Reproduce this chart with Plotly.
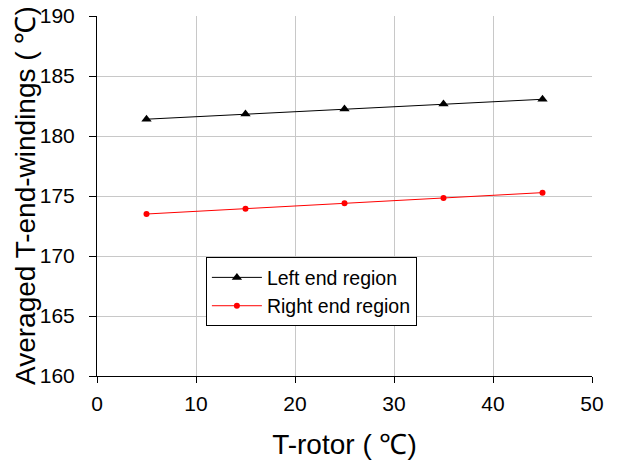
import plotly.graph_objects as go

t_rotor = [5, 15, 25, 35, 45]
left_end = [181.40, 181.83, 182.25, 182.67, 183.06]
right_end = [173.50, 173.94, 174.39, 174.83, 175.28]

x_ticks = [0, 10, 20, 30, 40, 50]
y_ticks = [160, 165, 170, 175, 180, 185, 190]

fig = go.Figure()
fig.add_trace(go.Scatter(
    x=t_rotor, y=left_end, mode="lines+markers", name="Left end region",
    line=dict(color="black", width=1),
    marker=dict(symbol="triangle-up", size=9, color="black"),
))
fig.add_trace(go.Scatter(
    x=t_rotor, y=right_end, mode="lines+markers", name="Right end region",
    line=dict(color="red", width=1),
    marker=dict(symbol="circle", size=6, color="red"),
))

font_family = "Liberation Sans, Arial, sans-serif"
fig.update_layout(
    width=617, height=466,
    margin=dict(l=97, r=25, t=16, b=90),
    paper_bgcolor="white", plot_bgcolor="white",
    font=dict(family=font_family, color="black"),
    showlegend=True,
    legend=dict(
        x=0.22, y=0.33, xanchor="left", yanchor="top",
        bgcolor="white", bordercolor="black", borderwidth=1,
        font=dict(size=19.5, family=font_family),
        itemwidth=50, tracegroupgap=0,
    ),
    annotations=[dict(
        text="Averaged T-end-windings ( ℃)", textangle=-90,
        xref="paper", yref="paper", x=0, y=0.5,
        xanchor="center", yanchor="middle", xshift=-72, showarrow=False,
        font=dict(size=28, family=font_family, color="black"),
    )],
)
fig.update_xaxes(
    range=[0, 50], tickvals=x_ticks, ticktext=[str(v) for v in x_ticks],
    showgrid=True, gridcolor="#c8c8c8", gridwidth=1,
    showline=True, linecolor="black", linewidth=1,
    ticks="outside", ticklen=6, tickcolor="black", ticklabelstandoff=3,
    ticklabeloverflow="allow",
    tickfont=dict(size=21), zeroline=False, automargin=False,
    title=dict(text="T-rotor ( ℃)", font=dict(size=28), standoff=20),
)
fig.update_yaxes(
    range=[160, 190], tickvals=y_ticks, ticktext=[str(v) for v in y_ticks],
    showgrid=True, gridcolor="#c8c8c8", gridwidth=1,
    showline=True, linecolor="black", linewidth=1,
    ticks="outside", ticklen=7, tickcolor="black", ticklabelstandoff=10,
    ticklabeloverflow="allow",
    tickfont=dict(size=21), zeroline=False, automargin=False,
)

fig.write_html("out.html", config={"displayModeBar": False},
               post_script="document.body.style.margin='0';")
